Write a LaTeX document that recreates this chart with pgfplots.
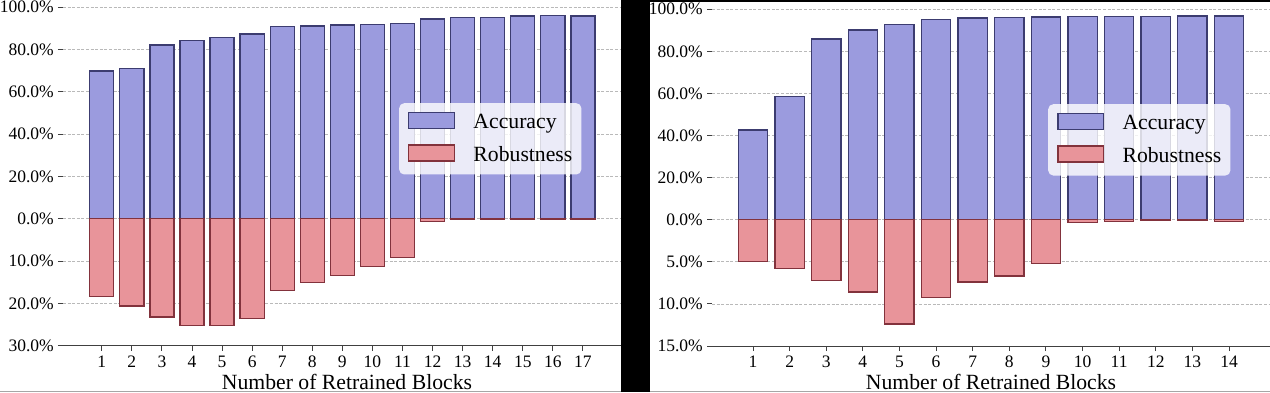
\documentclass[border=0pt]{standalone}
\usepackage{fontspec}
\setmainfont{Liberation Serif}
\usepackage{pgfplots}
\pgfplotsset{compat=1.18}
\usepackage{pgfplotstable}

\definecolor{accfill}{RGB}{155,155,222}
\definecolor{accedge}{RGB}{60,60,112}
\definecolor{robfill}{RGB}{232,148,154}
\definecolor{robedge}{RGB}{130,50,60}
\definecolor{gridc}{RGB}{185,185,185}

\pgfplotstableread{
n acc rob
1 69.7 18.3
2 70.9 20.6
3 82.0 23.2
4 84.2 25.3
5 85.6 25.3
6 87.3 23.6
7 90.7 16.9
8 91.0 15.1
9 91.5 13.5
10 91.8 11.3
11 92.1 9.1
12 94.3 0.6
13 95.1 0.1
14 95.1 0.1
15 95.7 0.1
16 95.9 0.1
17 95.7 0.1
}\leftdata

\pgfplotstableread{
n acc rob
1 42.7 5.0
2 58.4 5.8
3 85.9 7.2
4 90.2 8.6
5 92.9 12.4
6 95.1 9.25
7 95.9 7.4
8 96.2 6.7
9 96.3 5.2
10 96.5 0.36
11 96.5 0.24
12 96.5 0.12
13 96.8 0.12
14 96.8 0.24
}\rightdata

\pgfplotsset{
  panel/.style={
    scale only axis,
    ybar, bar width=0.8, bar shift=0pt,
    axis x line*=bottom, axis y line*=left,
    y axis line style={opacity=0},
    x axis line style={draw=black!75, line width=1pt},
    tick align=outside, major tick length=5pt,
    every tick/.style={draw=black!75, line width=0.9pt},
    ymajorgrids,
    grid style={gridc, dash pattern=on 3pt off 1.6pt, line width=0.8pt},
    ymin=-60, ymax=100, ytick={-60,-40,...,100},
    ticklabel style={font=\fontsize{17.5}{17.5}\selectfont},
    /pgf/number format/assume math mode=true,
    yticklabel style={inner sep=0pt, xshift=-4pt},
    xticklabel style={inner sep=0pt, yshift=-5pt},
    xlabel={Number of Retrained Blocks},
    xlabel style={at={(axis description cs:0.5,0)}, anchor=base, yshift=-43.3pt,
      font=\fontsize{21.7}{21.7}\selectfont},
    legend image code/.code={\draw[##1, sharp corners, line width=1.3pt, fill opacity=1, draw opacity=1] (0pt,0.3pt) rectangle (45.6pt,16.3pt);},
    legend cell align=left,
    legend style={
      anchor=north west,
      draw=none, fill=white, fill opacity=0.8, text opacity=1,
      rounded corners=5pt,
      inner xsep=9pt, inner ysep=8.5pt,
      row sep=11pt, column sep=18.4pt,
      font=\fontsize{21.7}{21.7}\selectfont,
      nodes={inner sep=0pt, text height=16.3pt, text depth=4.7pt, anchor=base west},
    },
  },
  accbar/.style={fill=accfill, draw=accedge, line width=1.3pt},
  robbar/.style={fill=robfill, draw=robedge, line width=1.3pt},
}

\begin{document}
\begin{tikzpicture}[x=1pt,y=1pt]
\path[use as bounding box] (0,0) rectangle (1270,392);
\fill[white] (0,0) rectangle (1270,392);

\begin{axis}[panel,
  at={(63pt,46.3pt)}, anchor=south west,
  width=568pt, height=338.7pt,
  xmin=-0.29, xmax=18.6,
  xtick={1,...,17},
  yticklabels={30.0\%,20.0\%,10.0\%,0.0\%,20.0\%,40.0\%,60.0\%,80.0\%,100.0\%},
  legend style={at={(0.5915,0.7166)}},
]
\addplot[accbar] table[x=n,y=acc]{\leftdata};
\addlegendentry{Accuracy}
\addplot[robbar] table[x=n,y expr=-2*\thisrow{rob}]{\leftdata};
\addlegendentry{Robustness}
\end{axis}

\begin{axis}[panel,
  at={(712pt,46pt)}, anchor=south west,
  width=558pt, height=336.7pt,
  xmin=-0.12, xmax=15.12,
  xtick={1,...,14},
  yticklabels={15.0\%,10.0\%,5.0\%,0.0\%,20.0\%,40.0\%,60.0\%,80.0\%,100.0\%},
  legend style={at={(0.6022,0.7187)}},
]
\addplot[accbar] table[x=n,y=acc]{\rightdata};
\addlegendentry{Accuracy}
\addplot[robbar] table[x=n,y expr=-4*\thisrow{rob}]{\rightdata};
\addlegendentry{Robustness}
\end{axis}

\fill[black] (621,0) rectangle (650,392);
\fill[black] (650,390) rectangle (1270,392);
\fill[black!35] (0,0) rectangle (621,1.2);
\fill[black!35] (650,0) rectangle (1270,1.2);
\end{tikzpicture}
\end{document}
